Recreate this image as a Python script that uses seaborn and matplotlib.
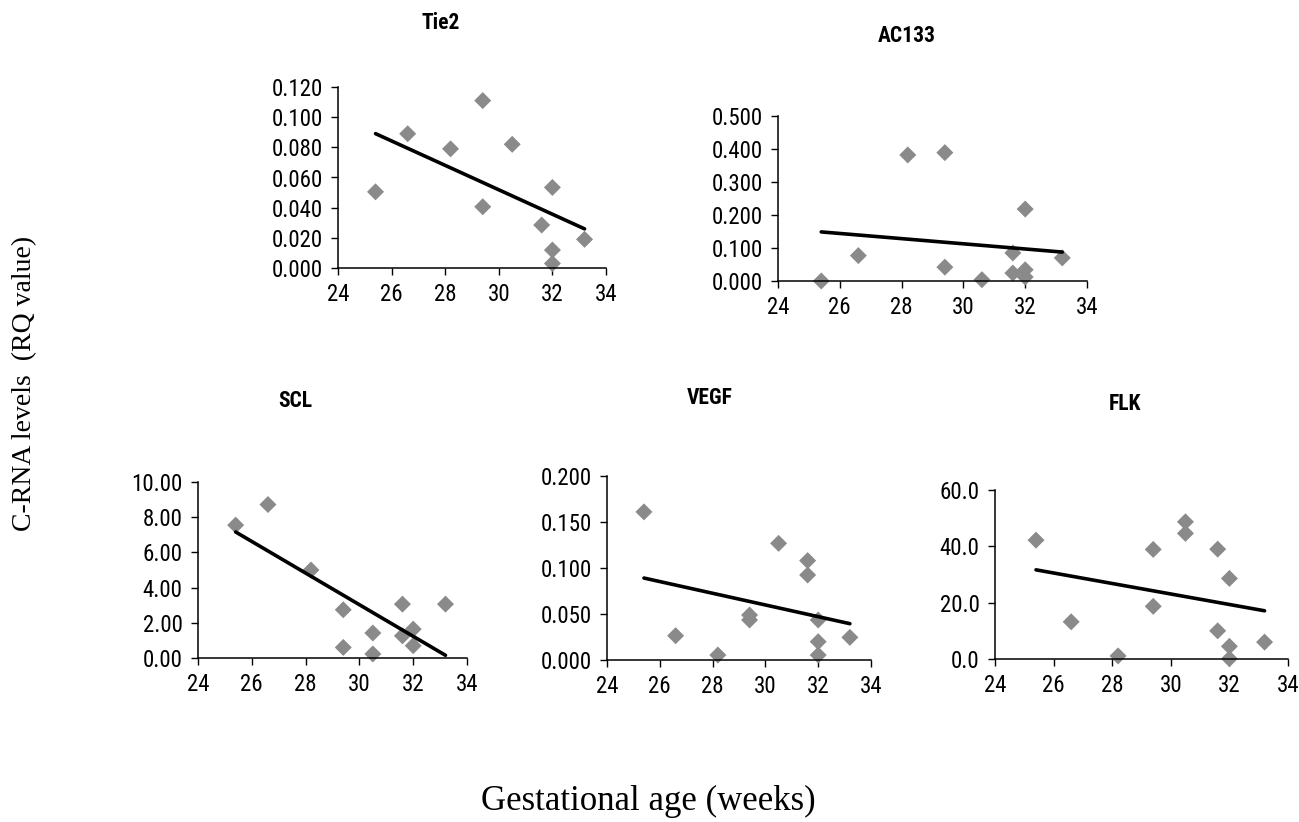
import numpy as np
import pandas as pd
import seaborn as sns
import matplotlib.pyplot as plt
from matplotlib import font_manager
from matplotlib.ticker import FormatStrFormatter


# valores: edad gestacional (semanas) y nivel RQ

tie2_age = [25.4, 26.6, 28.2, 29.4, 29.4, 30.5, 31.6, 32.0, 32.0, 32.0, 33.2]
tie2_rq = [0.0505, 0.089, 0.079, 0.111, 0.0406, 0.082, 0.0285, 0.0534, 0.0119, 0.003, 0.019]

ac133_age = [25.4, 26.6, 28.2, 29.4, 29.4, 30.6, 31.6, 31.6, 32.0, 32.0, 32.0, 33.2]
ac133_rq = [0.0, 0.077, 0.382, 0.389, 0.042, 0.004, 0.085, 0.024, 0.218, 0.034, 0.012, 0.070]

scl_age = [25.4, 26.6, 28.2, 29.4, 29.4, 30.5, 30.5, 31.6, 31.6, 32.0, 32.0, 33.2]
scl_rq = [7.55, 8.72, 5.0, 2.74, 0.60, 1.42, 0.23, 3.06, 1.26, 1.64, 0.70, 3.06]

vegf_age = [25.4, 26.6, 28.2, 29.4, 29.4, 30.5, 31.6, 31.6, 32.0, 32.0, 32.0, 33.2]
vegf_rq = [0.161, 0.0264, 0.0054, 0.0489, 0.0435, 0.1268, 0.108, 0.0924, 0.0435, 0.0199, 0.0054, 0.0246]

flk_age = [25.4, 26.6, 28.2, 29.4, 29.4, 30.5, 30.5, 31.6, 31.6, 32.0, 32.0, 32.0, 33.2]
flk_rq = [42.2, 13.2, 1.1, 38.9, 18.7, 48.7, 44.6, 39.0, 10.0, 28.6, 4.5, 0.1, 6.0]

age_ticks = [24, 26, 28, 30, 32, 34]

W, H = 1299, 822

sns.set_style("ticks")
# fuente estrecha si existe alguna
nombres = {f.name for f in font_manager.fontManager.ttflist}
narrow = [n for n in ['Liberation Sans Narrow', 'Roboto Condensed', 'Open Sans Condensed',
                      'DejaVu Sans Condensed'] if n in nombres]
plt.rcParams['font.family'] = narrow + ['DejaVu Sans']
plt.rcParams['font.stretch'] = 'condensed'
plt.rcParams['text.color'] = 'black'
plt.rcParams['axes.labelcolor'] = 'black'


def panel(rect, age, rq, title, title_xy, ymax, ystep, fmt):
    ax = fig.add_axes(rect)
    sns.regplot(x=age, y=rq, ax=ax, ci=None, marker='D', truncate=True,
                scatter_kws=dict(s=75, color='#8a8a8a', edgecolor='none', alpha=1,
                                 clip_on=False, zorder=2),
                line_kws=dict(color='black', lw=2.6, zorder=3))
    ax.set_xlim(24, 34)
    ax.set_ylim(0, ymax)
    ax.set_xticks(age_ticks)
    ax.set_yticks(np.arange(0, ymax + ystep / 2, ystep))
    ax.yaxis.set_major_formatter(FormatStrFormatter(fmt))
    ax.tick_params(direction='out', length=5, width=1, pad=6, labelsize=16.5,
                   color='black', labelcolor='black')
    for s in ['left', 'bottom']:
        ax.spines[s].set_linewidth(1.1)
        ax.spines[s].set_color('black')
    sns.despine(ax=ax)
    ax.set_xlabel('')
    ax.set_ylabel('')
    fig.text(title_xy[0] / W, 1 - title_xy[1] / H, title, ha='center', va='center',
             fontsize=15.5, fontweight='bold', color='black')
    return ax


def rect(x0, x1, y0, y1):
    return [x0 / W, 1 - y1 / H, (x1 - x0) / W, (y1 - y0) / H]


fig = plt.figure(figsize=(12.99, 8.22), dpi=100)

panel(rect(338, 606, 87, 268), tie2_age, tie2_rq, 'Tie2', (441, 23), 0.12, 0.02, '%.3f')
panel(rect(778, 1087, 116, 281), ac133_age, ac133_rq, 'AC133', (907, 36), 0.5, 0.1, '%.3f')
panel(rect(198, 467, 482, 658), scl_age, scl_rq, 'SCL', (295, 401), 10, 2, '%.2f')
panel(rect(607, 871, 476, 660), vegf_age, vegf_rq, 'VEGF', (710, 398), 0.2, 0.05, '%.3f')
panel(rect(995, 1288, 490, 659), flk_age, flk_rq, 'FLK', (1125, 404), 60, 20, '%.1f')

fig.text(25 / W, 1 - 383 / H, 'C-RNA levels  (RQ value)', rotation=90, ha='center',
         va='center', fontsize=20, family=['Liberation Serif', 'DejaVu Serif'],
         fontstretch='normal')
fig.text(648 / W, 1 - 801 / H, 'Gestational age (weeks)', ha='center', va='center',
         fontsize=25, family=['Liberation Serif', 'DejaVu Serif'], fontstretch='normal')

fig.savefig('out.png', dpi=100, facecolor='white')
